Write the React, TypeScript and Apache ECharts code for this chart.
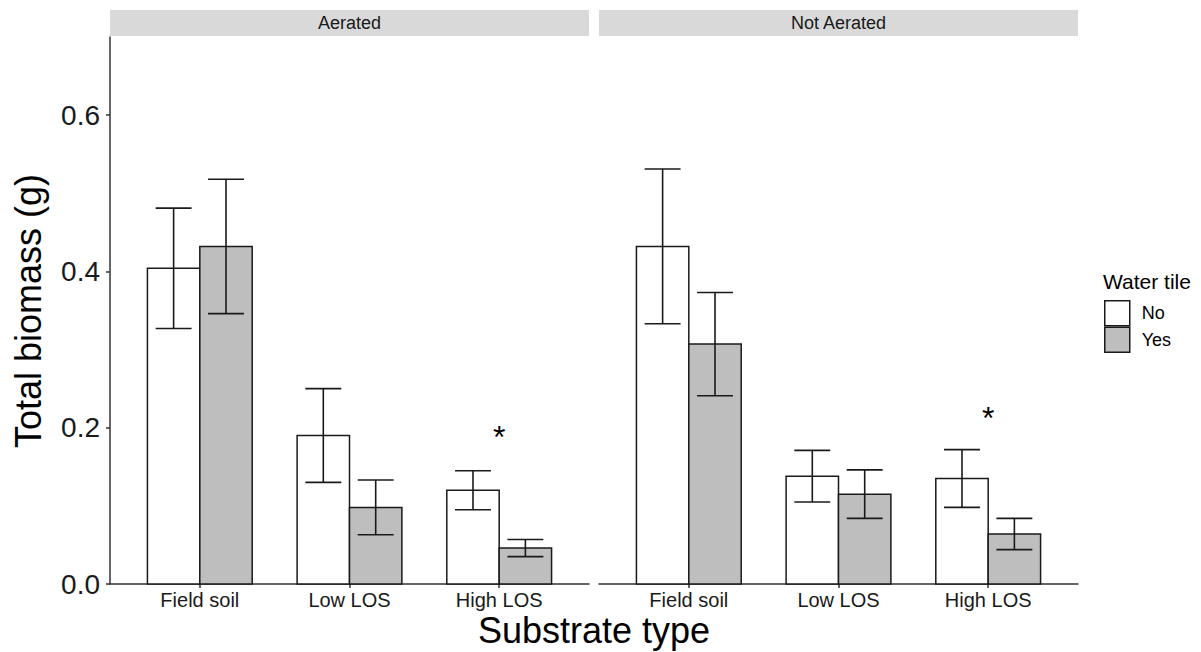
import React, { useEffect, useRef } from "react";
import * as echarts from "echarts";

const categories = ["Field soil", "Low LOS", "High LOS"];
const panels = ["Aerated", "Not Aerated"];
const groups = ["No", "Yes"];

// means and standard errors (Total biomass, g)
const aeratedNo = [0.404, 0.19, 0.12];
const aeratedNoSe = [0.077, 0.06, 0.025];
const aeratedYes = [0.432, 0.098, 0.046];
const aeratedYesSe = [0.086, 0.035, 0.011];
const notAeratedNo = [0.432, 0.138, 0.135];
const notAeratedNoSe = [0.099, 0.033, 0.037];
const notAeratedYes = [0.307, 0.115, 0.064];
const notAeratedYesSe = [0.066, 0.031, 0.02];

// significance marks: [category position, y]
const aeratedStar = [[3, 0.195]];
const notAeratedStar = [[3, 0.219]];

const yTicks = [0, 0.2, 0.4, 0.6];

const FONT = "'Liberation Sans', Arial, Helvetica, sans-serif";
const INK = "#1a1a1a";
const FILLS = ["#ffffff", "#bebebe"];
const HALF = 0.175;
const CAP = 0.12;

function barSeries(name: string, gi: number, grid: number, vals: number[]) {
  const off = gi === 0 ? -HALF : HALF;
  return {
    type: "custom",
    name,
    xAxisIndex: grid,
    yAxisIndex: grid,
    itemStyle: { color: FILLS[gi] },
    data: vals.map((v, i) => [i + 1, v]),
    renderItem: (params: any, api: any) => {
      const x = api.value(0);
      const v = api.value(1);
      const p0 = api.coord([x + off - HALF, v]);
      const p1 = api.coord([x + off + HALF, 0]);
      return {
        type: "rect",
        shape: { x: p0[0], y: p0[1], width: p1[0] - p0[0], height: p1[1] - p0[1] },
        style: { fill: FILLS[gi], stroke: INK, lineWidth: 1.5 },
      };
    },
  };
}

function errSeries(gi: number, grid: number, vals: number[], se: number[]) {
  const off = gi === 0 ? -HALF : HALF;
  return {
    type: "custom",
    name: "err" + grid + gi,
    xAxisIndex: grid,
    yAxisIndex: grid,
    z: 5,
    data: vals.map((v, i) => [i + 1, v - se[i], v + se[i]]),
    renderItem: (params: any, api: any) => {
      const x = api.value(0) + off;
      const lo = api.value(1);
      const hi = api.value(2);
      const a = api.coord([x, lo]);
      const b = api.coord([x, hi]);
      const l1 = api.coord([x - CAP, lo]);
      const r1 = api.coord([x + CAP, lo]);
      const l2 = api.coord([x - CAP, hi]);
      const r2 = api.coord([x + CAP, hi]);
      const st = { stroke: INK, lineWidth: 1.6 };
      return {
        type: "group",
        children: [
          { type: "line", shape: { x1: a[0], y1: a[1], x2: b[0], y2: b[1] }, style: st },
          { type: "line", shape: { x1: l1[0], y1: l1[1], x2: r1[0], y2: r1[1] }, style: st },
          { type: "line", shape: { x1: l2[0], y1: l2[1], x2: r2[0], y2: r2[1] }, style: st },
        ],
      };
    },
  };
}

function starSeries(grid: number, pts: number[][]) {
  return {
    type: "custom",
    name: "star" + grid,
    xAxisIndex: grid,
    yAxisIndex: grid,
    z: 6,
    data: pts,
    renderItem: (params: any, api: any) => {
      const p = api.coord([api.value(0), api.value(1)]);
      return {
        type: "text",
        x: p[0],
        y: p[1] + 5,
        style: { text: "*", fontSize: 32, fontFamily: FONT, fill: "#000", align: "center", verticalAlign: "middle" },
      };
    },
  };
}

const GRID_LEFT = [110, 599];
const GRID_W = 479;
const GRID_TOP = 37;
const GRID_H = 547;

export default function App() {
  const ref = useRef<HTMLDivElement>(null);
  useEffect(() => {
    if (!ref.current) return;
    const chart = echarts.init(ref.current, undefined, { renderer: "svg" });
    const xAxis = [0, 1].map((g) => ({
      type: "value",
      gridIndex: g,
      min: 0.4,
      max: 3.6,
      splitLine: { show: false },
      axisLine: { show: true, onZero: false, lineStyle: { color: "#333", width: 1.5 } },
      axisTick: { show: true, customValues: [1, 2, 3], length: 4, lineStyle: { color: "#333", width: 1.5 } },
      axisLabel: {
        customValues: [1, 2, 3],
        formatter: (v: number) => categories[Math.round(v) - 1] ?? "",
        fontSize: 20,
        fontFamily: FONT,
        color: INK,
        margin: 6,
      },
    }));
    const yAxis = [0, 1].map((g) => ({
      type: "value",
      gridIndex: g,
      min: 0,
      max: 0.7,
      splitLine: { show: false },
      axisLine: { show: g === 0, lineStyle: { color: "#333", width: 1.5 } },
      axisTick: { show: g === 0, customValues: yTicks, length: 4, lineStyle: { color: "#333", width: 1.5 } },
      axisLabel: {
        show: g === 0,
        customValues: yTicks,
        formatter: (v: number) => v.toFixed(1),
        fontSize: 28,
        fontFamily: FONT,
        color: INK,
        margin: 10,
      },
    }));
    const graphics: any[] = [];
    panels.forEach((p, i) => {
      graphics.push({
        type: "rect",
        shape: { x: GRID_LEFT[i], y: 10, width: GRID_W, height: 26 },
        style: { fill: "#d9d9d9" },
        silent: true,
      });
      graphics.push({
        type: "text",
        x: GRID_LEFT[i] + GRID_W / 2,
        y: 23,
        style: { text: p, fontSize: 18, fontFamily: FONT, fill: INK, align: "center", verticalAlign: "middle" },
      });
    });
    graphics.push({
      type: "text",
      x: 28,
      y: 311,
      rotation: Math.PI / 2,
      style: { text: "Total biomass (g)", fontSize: 36, fontFamily: FONT, fill: "#000", align: "center", verticalAlign: "middle" },
    });
    graphics.push({
      type: "text",
      x: 594,
      y: 630,
      style: { text: "Substrate type", fontSize: 36, fontFamily: FONT, fill: "#000", align: "center", verticalAlign: "middle" },
    });
    graphics.push({
      type: "text",
      x: 1103,
      y: 281,
      style: { text: "Water tile", fontSize: 21, fontFamily: FONT, fill: "#000", align: "left", verticalAlign: "middle" },
    });

    chart.setOption({
      animation: false,
      backgroundColor: "#ffffff",
      grid: GRID_LEFT.map((l) => ({ left: l, top: GRID_TOP, width: GRID_W, height: GRID_H })),
      xAxis,
      yAxis,
      legend: {
        orient: "vertical",
        left: 1104,
        top: 300,
        padding: 0,
        itemWidth: 25,
        itemHeight: 25,
        itemGap: 0,
        icon: "rect",
        selectedMode: false,
        textStyle: { fontSize: 18, fontFamily: FONT, color: "#000", padding: [0, 0, 0, 7] },
        data: groups.map((g, i) => ({
          name: g,
          itemStyle: { color: FILLS[i], borderColor: INK, borderWidth: 1.5 },
        })),
      },
      graphic: graphics,
      series: [
        barSeries("No", 0, 0, aeratedNo),
        barSeries("Yes", 1, 0, aeratedYes),
        barSeries("No", 0, 1, notAeratedNo),
        barSeries("Yes", 1, 1, notAeratedYes),
        errSeries(0, 0, aeratedNo, aeratedNoSe),
        errSeries(1, 0, aeratedYes, aeratedYesSe),
        errSeries(0, 1, notAeratedNo, notAeratedNoSe),
        errSeries(1, 1, notAeratedYes, notAeratedYesSe),
        starSeries(0, aeratedStar),
        starSeries(1, notAeratedStar),
      ],
    });
    return () => chart.dispose();
  }, []);
  return <div ref={ref} style={{ position: "fixed", left: 0, top: 0, width: 1201, height: 652 }} />;
}
